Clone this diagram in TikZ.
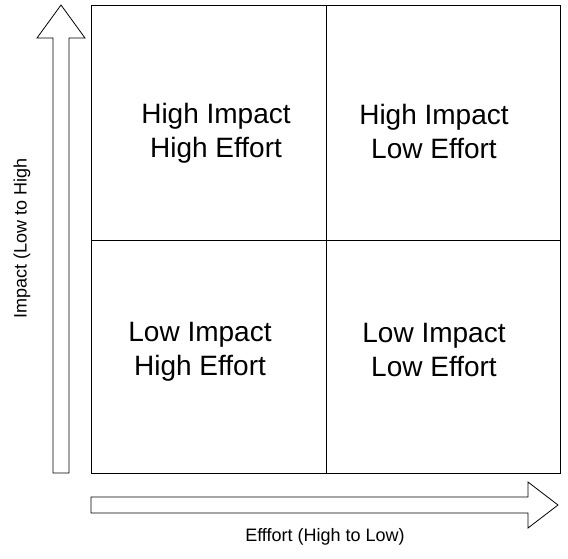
\documentclass[tikz,border=0pt]{standalone}
\usepackage{fontspec}
\setmainfont{Liberation Sans}
\begin{document}
\begin{tikzpicture}[x=1pt,y=-1pt,line width=0.8pt,
  q/.style={align=center,font=\fontsize{28}{34}\selectfont},
  lab/.style={font=\fontsize{18}{20}\selectfont}]
\useasboundingbox (0,0) rectangle (568,558);
\draw (91,5) rectangle (560,473);
\draw (326,5) -- (326,473);
\draw (91,240) -- (560,240);
\draw (53,473) -- (53,38) -- (37,38) -- (61,5) -- (85,38) -- (69,38) -- (69,473) -- cycle;
\draw (91,497) -- (528,497) -- (528,482) -- (558,505) -- (528,528) -- (528,513) -- (91,513) -- cycle;
\node[q] (hh) at (216,133) {High Impact\\High Effort};
\node[q] (hl) at (434,131) {High Impact\\Low Effort};
\node[q] (lh) at (200,352) {Low Impact\\High Effort};
\node[q] (ll) at (434,350) {Low Impact\\Low Effort};
\node[lab,rotate=90] (yl) at (22,238) {Impact (Low to High};
\node[lab] (xl) at (325,537) {Efffort (High to Low)};
\end{tikzpicture}
\end{document}
